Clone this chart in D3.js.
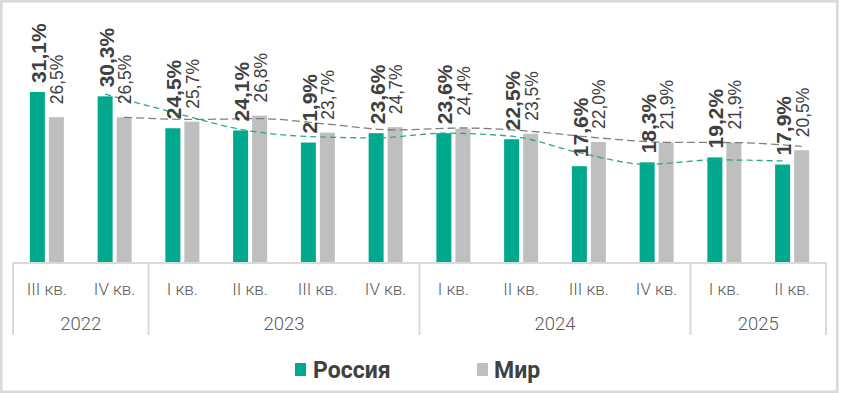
<!DOCTYPE html>
<html>
<head>
<meta charset="utf-8">
<script src="https://cdn.jsdelivr.net/npm/d3@7"></script>
<style>
  html, body { margin: 0; padding: 0; background: #fff; }
  svg { display: block; }
</style>
</head>
<body>
<svg id="chart" width="841" height="393"></svg>
<script>
// ---- data ----
const categories = ["III кв.","IV кв.","I кв.","II кв.","III кв.","IV кв.","I кв.","II кв.","III кв.","IV кв.","I кв.","II кв."];
const years = ["2022","2023","2024","2025"];
const yearSpans = [2, 4, 4, 2];
const seriesNames = ["Россия", "Мир"];
const russia = [31.1, 30.3, 24.5, 24.1, 21.9, 23.6, 23.6, 22.5, 17.6, 18.3, 19.2, 17.9];
const world  = [26.5, 26.5, 25.7, 26.8, 23.7, 24.7, 24.4, 23.5, 22.0, 21.9, 21.9, 20.5];
// dashed trend lines (2-period moving average), values as read
const russiaTrend = [null, 30.7, 27.4, 24.3, 23.0, 22.75, 23.6, 23.05, 20.05, 17.95, 18.75, 18.55];
const worldTrend  = [null, 26.5, 26.1, 26.25, 25.25, 24.2, 24.55, 23.95, 22.75, 21.95, 21.9, 21.2];

const colors = { "Россия": "#00a88e", "Мир": "#bfbfbf" };
const trendColors = { "Россия": "#2fa58f", "Мир": "#808080" };

const svg = d3.select("#chart");
const left = 13, right = 826, baseY = 263, topY = 43;

// border
svg.append("rect")
  .attr("x", 1.25).attr("y", 1.25)
  .attr("width", 836).attr("height", 390.5)
  .attr("fill", "#fff").attr("stroke", "#d9d9d9").attr("stroke-width", 2.6);

const x0 = d3.scaleBand().domain(d3.range(categories.length)).range([left, right]).padding(0);
const step0 = x0.bandwidth();
// inner band: bar 15, gap 4
const barW = 15, gap = 4;
const innerStep = barW + gap;
const pi = gap / innerStep;
const po = (step0 / innerStep - 2 + pi) / 2;
const x1 = d3.scaleBand().domain(seriesNames).range([0, step0]).paddingInner(pi).paddingOuter(po);

const y = d3.scaleLinear().domain([0, 40]).range([baseY, topY]);

const data = seriesNames.map((name, si) => ({
  name,
  values: si === 0 ? russia : world,
  trend: si === 0 ? russiaTrend : worldTrend
}));

// bars
const gBars = svg.append("g");
data.forEach(s => {
  gBars.selectAll(null).data(s.values).enter().append("rect")
    .attr("x", (d, i) => x0(i) + x1(s.name))
    .attr("y", d => y(d))
    .attr("width", x1.bandwidth())
    .attr("height", d => baseY - y(d))
    .attr("fill", colors[s.name]);
});

// axis line and year separators
const gAxis = svg.append("g");
gAxis.append("line")
  .attr("x1", left).attr("x2", right)
  .attr("y1", baseY).attr("y2", baseY)
  .attr("stroke", "#d9d9d9").attr("stroke-width", 2);

let idx = 0;
const bounds = [0];
yearSpans.forEach(s => { idx += s; bounds.push(idx); });
bounds.forEach(b => {
  const xx = b < categories.length ? x0(b) : right;
  gAxis.append("line")
    .attr("x1", xx).attr("x2", xx)
    .attr("y1", baseY).attr("y2", 335)
    .attr("stroke", "#d9d9d9").attr("stroke-width", 2);
});

// quarter labels
gAxis.selectAll(null).data(categories).enter().append("text")
  .attr("x", (d, i) => x0(i) + step0 / 2)
  .attr("y", 289)
  .attr("text-anchor", "middle")
  .attr("dominant-baseline", "central")
  .attr("font-family", "Roboto, 'Noto Sans', sans-serif")
  .attr("font-weight", 300)
  .attr("font-size", 17)
  .attr("fill", "#595959")
  .text(d => d);

// year labels
years.forEach((yr, i) => {
  const a = bounds[i], b = bounds[i + 1];
  const xa = x0(a), xb = b < categories.length ? x0(b) : right;
  gAxis.append("text")
    .attr("x", (xa + xb) / 2)
    .attr("y", 324)
    .attr("text-anchor", "middle")
    .attr("dominant-baseline", "central")
    .attr("font-family", "Roboto, 'Noto Sans', sans-serif")
    .attr("font-weight", 300)
    .attr("font-size", 18.5)
    .attr("fill", "#595959")
    .text(yr);
});

// trend lines
const gTrend = svg.append("g");
data.forEach(s => {
  const line = d3.line()
    .defined(d => d != null)
    .x((d, i) => x0(i) + x1(s.name) + x1.bandwidth() / 2)
    .y(d => y(d))
    .curve(d3.curveMonotoneX);
  gTrend.append("path")
    .attr("d", line(s.trend))
    .attr("fill", "none")
    .attr("stroke", trendColors[s.name])
    .attr("stroke-width", 1.3)
    .attr("stroke-dasharray", s.name === "Россия" ? "6,4" : "8,4");
});

// data labels
const fmt = v => d3.format(".1f")(v).replace(".", ",") + "%";
const gLab = svg.append("g");
data.forEach((s, si) => {
  gLab.selectAll(null).data(s.values).enter().append("text")
    .attr("transform", (d, i) => {
      const cx = x0(i) + x1(s.name) + x1.bandwidth() / 2 + 1;
      const yy = y(d) - (si === 0 ? 9 : 13);
      return `translate(${cx},${yy}) rotate(-90)`;
    })
    .attr("text-anchor", "start")
    .attr("dominant-baseline", "central")
    .attr("font-family", "'Liberation Sans', Arial, sans-serif")
    .attr("font-weight", si === 0 ? 700 : 400)
    .attr("font-size", si === 0 ? 21 : 17.5)
    .attr("fill", "#404040")
    .text(d => fmt(d));
});

// legend
const gLeg = svg.append("g");
const legendItems = [
  { name: "Россия", sx: 295, tx: 313 },
  { name: "Мир", sx: 477, tx: 494 }
];
legendItems.forEach(it => {
  gLeg.append("rect")
    .attr("x", it.sx).attr("y", 363)
    .attr("width", 11).attr("height", 13)
    .attr("fill", colors[it.name]);
  gLeg.append("text")
    .attr("x", it.tx).attr("y", 377.5)
    .attr("font-family", "Roboto, 'Noto Sans', sans-serif")
    .attr("font-weight", 700)
    .attr("font-size", 23)
    .attr("fill", "#404040")
    .text(it.name);
});
</script>
</body>
</html>
